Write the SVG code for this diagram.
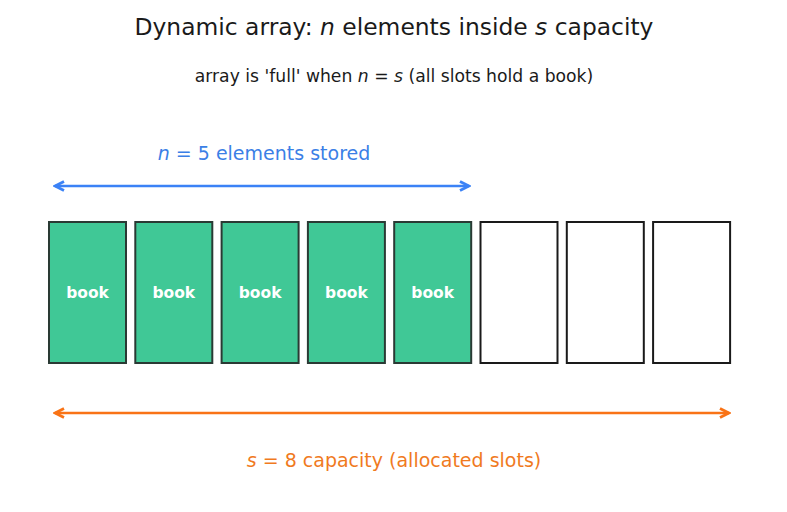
<svg xmlns="http://www.w3.org/2000/svg" width="787" height="512" viewBox="0 0 787 512">
<defs>
<style>
text{font-family:"DejaVu Sans","Liberation Sans",sans-serif;}
.title{font-size:23.4px;fill:#1a1a1a;text-anchor:middle;}
.sub{font-size:17.2px;fill:#1a1a1a;text-anchor:middle;}
.blue{font-size:19px;fill:#3b7fe6;text-anchor:middle;}
.orange{font-size:19px;fill:#f07a1e;text-anchor:middle;}
.full rect{fill:#40c896;stroke:#2a3a34;stroke-width:2;}
.empty rect{fill:#ffffff;stroke:#1a1a1a;stroke-width:2;}
.lbl{font-size:15.5px;font-weight:bold;fill:#ffffff;text-anchor:middle;}
.it{font-style:italic;}
</style>
<marker id="hb" viewBox="0 0 12 12" refX="10" refY="6" markerWidth="12" markerHeight="12" markerUnits="userSpaceOnUse" orient="auto-start-reverse">
<path d="M1,1.5 L10,6 L1,10.5" fill="none" stroke="#3b82f6" stroke-width="2.8" stroke-linejoin="miter"/>
</marker>
<marker id="ho" viewBox="0 0 12 12" refX="10" refY="6" markerWidth="12" markerHeight="12" markerUnits="userSpaceOnUse" orient="auto-start-reverse">
<path d="M1,1.5 L10,6 L1,10.5" fill="none" stroke="#f97316" stroke-width="2.8" stroke-linejoin="miter"/>
</marker>
</defs>
<rect width="787" height="512" fill="#ffffff"/>
<text class="title" x="394" y="35">Dynamic array: <tspan class="it">n</tspan> elements inside <tspan class="it">s</tspan> capacity</text>
<text class="sub" x="394" y="82">array is 'full' when <tspan class="it">n</tspan> = <tspan class="it">s</tspan> (all slots hold a book)</text>
<text class="blue" x="264" y="160"><tspan class="it">n</tspan> = 5 elements stored</text>
<text class="orange" x="394" y="467"><tspan class="it">s</tspan> = 8 capacity (allocated slots)</text>
<g id="connectors">
<line x1="55" y1="186" x2="469" y2="186" stroke="#3b82f6" stroke-width="2.5" marker-start="url(#hb)" marker-end="url(#hb)"/>
<line x1="55" y1="413" x2="729" y2="413" stroke="#f97316" stroke-width="2.5" marker-start="url(#ho)" marker-end="url(#ho)"/>
</g>
<g id="slot1" class="full"><rect x="49" y="222" width="77" height="141"/><text class="lbl" x="87.5" y="298">book</text></g>
<g id="slot2" class="full"><rect x="135.3" y="222" width="77" height="141"/><text class="lbl" x="173.8" y="298">book</text></g>
<g id="slot3" class="full"><rect x="221.6" y="222" width="77" height="141"/><text class="lbl" x="260.1" y="298">book</text></g>
<g id="slot4" class="full"><rect x="307.9" y="222" width="77" height="141"/><text class="lbl" x="346.4" y="298">book</text></g>
<g id="slot5" class="full"><rect x="394.2" y="222" width="77" height="141"/><text class="lbl" x="432.7" y="298">book</text></g>
<g id="slot6" class="empty"><rect x="480.5" y="222" width="77" height="141"/></g>
<g id="slot7" class="empty"><rect x="566.8" y="222" width="77" height="141"/></g>
<g id="slot8" class="empty"><rect x="653.1" y="222" width="77" height="141"/></g>
</svg>
